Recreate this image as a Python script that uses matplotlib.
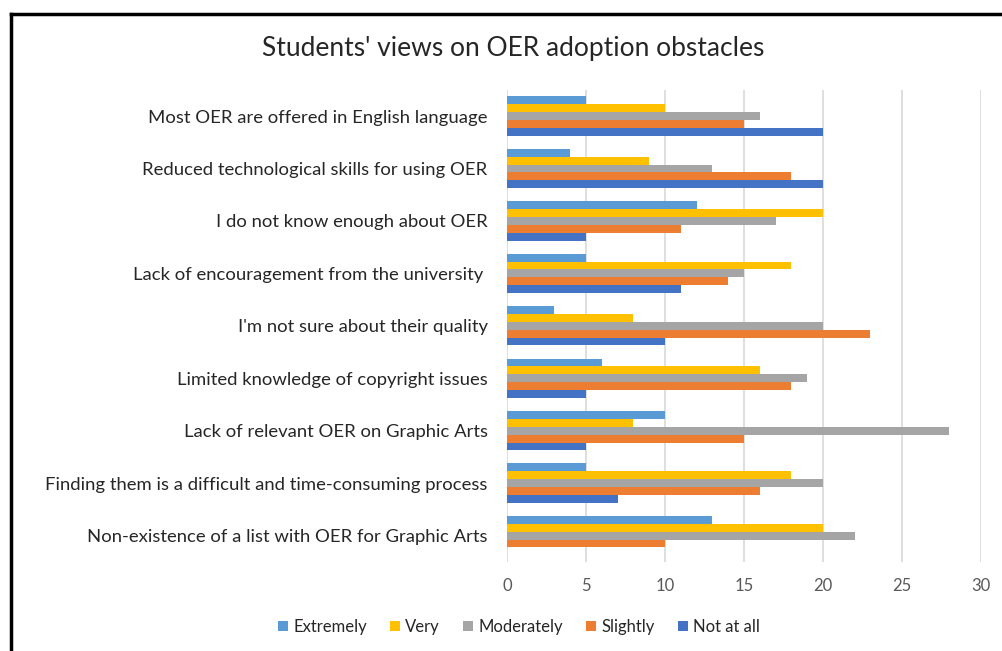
import numpy as np
import matplotlib.pyplot as plt
from matplotlib.lines import Line2D

categories = [
    "Most OER are offered in English language",
    "Reduced technological skills for using OER",
    "I do not know enough about OER",
    "Lack of encouragement from the university ",
    "I'm not sure about their quality",
    "Limited knowledge of copyright issues",
    "Lack of relevant OER on Graphic Arts",
    "Finding them is a difficult and time-consuming process",
    "Non-existence of a list with OER for Graphic Arts",
]
series = ["Extremely", "Very", "Moderately", "Slightly", "Not at all"]
extremely = [5, 4, 12, 5, 3, 6, 10, 5, 13]
very = [10, 9, 20, 18, 8, 16, 8, 18, 20]
moderately = [16, 13, 17, 15, 20, 19, 28, 20, 22]
slightly = [15, 18, 11, 14, 23, 18, 15, 16, 10]
not_at_all = [20, 20, 5, 11, 10, 5, 5, 7, 0]
colors = ["#5B9BD5", "#FFC000", "#A5A5A5", "#ED7D31", "#4472C4"]

plt.rcParams['font.family'] = ['Lato', 'DejaVu Sans']

fig = plt.figure(figsize=(10.02, 6.51), dpi=100)
ax = fig.add_axes([0.506, 0.137, 0.473, 0.725])

y = np.arange(len(categories))
h = 0.15
values = [extremely, very, moderately, slightly, not_at_all]
for i, (name, vals, c) in enumerate(zip(series, values, colors)):
    ax.barh(y + (i - 2) * h, vals, height=h, color=c, label=name, zorder=3)

ax.set_ylim(len(categories) - 0.5, -0.5)
ax.set_xlim(0, 30)
ax.set_xticks(np.arange(0, 31, 5))
ax.set_yticks(y)
ax.set_yticklabels(categories, fontsize=13.3, color="#262626")
ax.tick_params(axis='x', colors="#595959", labelsize=12, length=0, pad=12)
ax.tick_params(axis='y', length=0, pad=14)
ax.grid(axis='x', color="#D9D9D9", linewidth=1.2, zorder=0)
for s in ax.spines.values():
    s.set_visible(False)

fig.text(0.512, 0.925, "Students' views on OER adoption obstacles", ha='center', va='center',
         fontsize=19, color="#262626")

ax.legend(loc='center', bbox_to_anchor=(0.518, 0.037), bbox_transform=fig.transFigure,
          ncol=5, frameon=False, fontsize=12, handlelength=0.6, handleheight=0.6,
          handletextpad=0.3, columnspacing=1.4, labelcolor="#262626")

# outer border (only left and top edges visible)
fig.add_artist(Line2D([11 / 1002, 11 / 1002], [0, 1 - 14 / 651], color="black", linewidth=2.5,
                      transform=fig.transFigure))
fig.add_artist(Line2D([11 / 1002, 1], [1 - 14 / 651, 1 - 14 / 651], color="black", linewidth=2.5,
                      transform=fig.transFigure))

plt.savefig("out.png", dpi=100)
